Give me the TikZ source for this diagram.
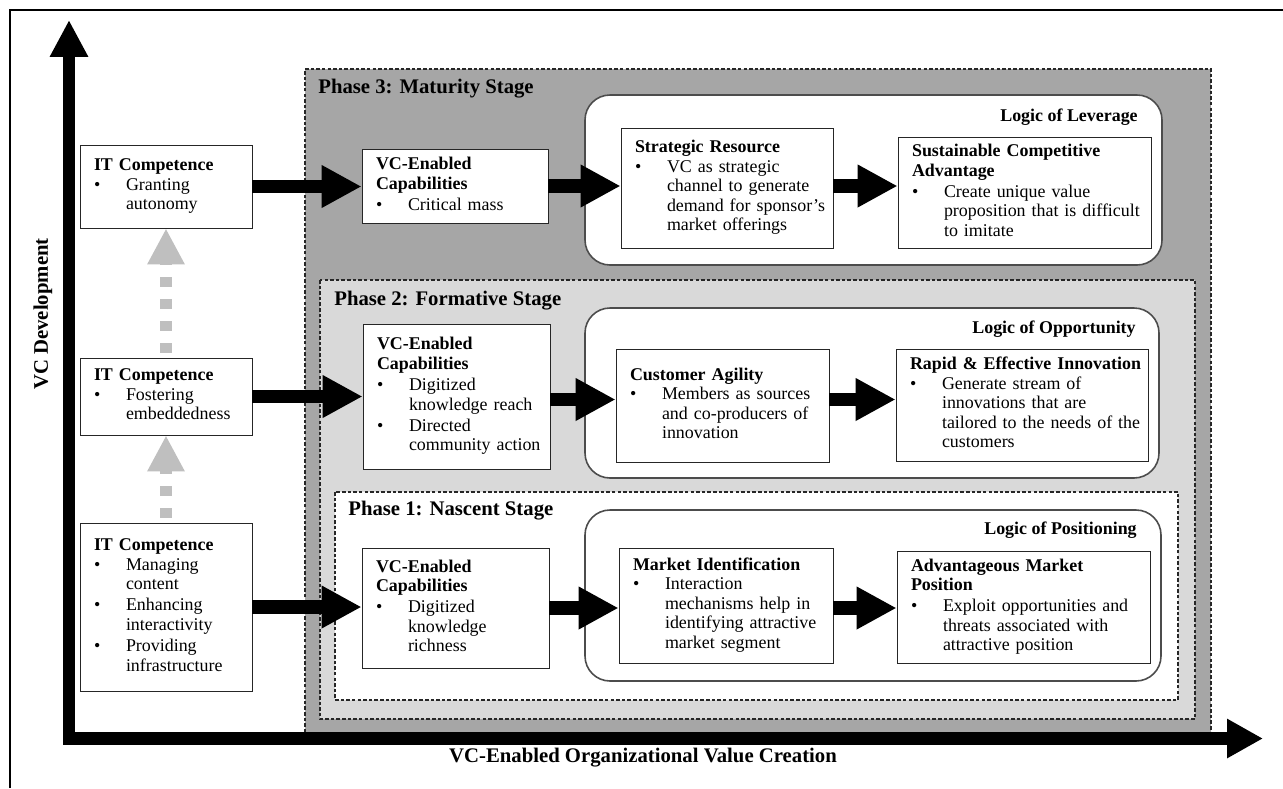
\documentclass[tikz,border=0pt]{standalone}
\usepackage{fontspec}
\setmainfont{Liberation Serif}
\usetikzlibrary{arrows.meta}
\newcommand{\bodyfont}{\fontsize{10.2}{11.1}\selectfont}
\newcommand{\headfont}{\fontsize{11.8}{13}\selectfont\bfseries}
\newcommand{\ttl}[1]{\noindent\textbf{\begin{tabular}[t]{@{}l@{}}#1\end{tabular}}}
\newcommand{\bitem}[1]{\par\noindent\makebox[0.64cm][l]{\textbullet}%
  \begin{tabular}[t]{@{}l@{}}#1\end{tabular}}

\begin{document}
\begin{tikzpicture}[x=0.02cm, y=-0.02cm,
  box/.style={draw=black!85, line width=0.5pt, fill=white, align=left,
    inner xsep=0.28cm, inner ysep=0.08cm, font=\bodyfont},
  phase/.style={draw=black!85, line width=0.6pt, dash pattern=on 2pt off 1.2pt},
  logic/.style={draw=black!70, line width=0.9pt, fill=white, rounded corners=0.5cm},
  logiclabel/.style={anchor=east, inner sep=0pt, font=\bodyfont\bfseries},
  phaselabel/.style={anchor=west, inner sep=0pt, font=\headfont},
  fat/.style={line width=0.27cm, -{Triangle[width=0.8cm, length=0.8cm]}},
  axis/.style={line width=0.25cm, line join=miter,
    {Triangle[width=0.72cm, length=0.74cm]}-{Triangle[width=0.74cm, length=0.72cm]}},
  climb/.style={draw=black!25, line width=0.23cm, dash pattern=on 0.2cm off 0.24cm,
    dash phase=0.34cm, -{Triangle[width=0.7cm, length=0.72cm]}}]
\useasboundingbox (0,0) rectangle (1283,788);
% Frame of the figure.
\draw[line width=0.04cm] (10,788) -- (10,10) -- (1283,10);
% Shade the three phases.
\fill[black!35] (305,69) rectangle (1211,738);
\draw[phase] (305,738) -- (305,69) -- (1211,69) -- (1211,738);
\draw[phase, fill=black!15] (320,280) rectangle (1195,719);
\draw[phase, fill=white] (335,492) rectangle (1178,700);
\node[phaselabel] (ph3) at (318,89) {Phase 3: Maturity Stage};
\node[phaselabel] (ph2) at (334,301) {Phase 2: Formative Stage};
\node[phaselabel] (ph1) at (348,511) {Phase 1: Nascent Stage};
% Draw the logic panels.
\draw[logic] (585,95) rectangle (1162,265);
\draw[logic] (585,308) rectangle (1159,478);
\draw[logic] (585,510) rectangle (1161,681);
\node[logiclabel] (lev) at (1138,117) {Logic of Leverage};
\node[logiclabel] (opp) at (1136,329) {Logic of Opportunity};
\node[logiclabel] (pos) at (1137,530) {Logic of Positioning};
% Draw the two axes.
\coordinate (ytip) at (69,20);
\coordinate (origin) at (69,738.5);
\coordinate (xtip) at (1263,738.5);
\draw[axis] (ytip) -- (origin) -- (xtip);
\node[rotate=90, font=\headfont] (ylab) at (43,314) {VC Development};
\node[font=\headfont] (xlab) at (643,758) {VC-Enabled Organizational Value Creation};
% IT competence column.
\node[box, text width=2.88cm, minimum height=1.66cm] (itt) at (166,186.5)
  {\ttl{IT Competence}\bitem{Granting\\autonomy}};
\node[box, text width=2.88cm, minimum height=1.54cm] (itm) at (166,396.5)
  {\ttl{IT Competence}\bitem{Fostering\\embeddedness}};
\node[box, text width=2.88cm, minimum height=3.36cm] (itb) at (166,607)
  {\ttl{IT Competence}\bitem{Managing\\content}\bitem{Enhancing\\interactivity}%
   \bitem{Providing\\infrastructure}};
% VC-enabled capabilities column.
\node[box, text width=3.16cm, minimum height=1.48cm] (vct) at (455,186)
  {\ttl{VC-Enabled\\Capabilities}\bitem{Critical mass}};
\node[box, text width=3.18cm, minimum height=2.9cm] (vcm) at (456.5,396.5)
  {\ttl{VC-Enabled\\Capabilities}\bitem{Digitized\\knowledge reach}%
   \bitem{Directed\\community action}};
\node[box, text width=3.18cm, minimum height=2.4cm] (vcb) at (455.5,608)
  {\ttl{VC-Enabled\\Capabilities}\bitem{Digitized\\knowledge\\richness}};
% Intermediate outcomes.
\node[box, text width=3.68cm, minimum height=2.4cm] (strat) at (727,188)
  {\ttl{Strategic Resource}\bitem{VC as strategic\\channel to generate\\demand for sponsor’s\\market offerings}};
\node[box, text width=3.70cm, minimum height=2.26cm] (agil) at (722.5,405.5)
  {\ttl{Customer Agility}\bitem{Members as sources\\and co-producers of\\innovation}};
\node[box, text width=3.72cm, minimum height=2.3cm] (mkt) at (726,605.5)
  {\ttl{Market Identification}\bitem{Interaction\\mechanisms help in\\identifying attractive\\market segment}};
% Final outcomes.
\node[box, text width=4.50cm, minimum height=2.22cm] (sust) at (1024.5,192.5)
  {\ttl{Sustainable Competitive\\Advantage}\bitem{Create unique value\\proposition that is difficult\\to imitate}};
\node[box, text width=4.48cm, minimum height=2.24cm] (innov) at (1022,405)
  {\ttl{Rapid \& Effective Innovation}\bitem{Generate stream of\\innovations that are\\tailored to the needs of the\\customers}};
\node[box, text width=4.50cm, minimum height=2.24cm] (adv) at (1023.5,607)
  {\ttl{Advantageous Market\\Position}\bitem{Exploit opportunities and\\threats associated with\\attractive position}};
% Climb from one competence to the next.
\draw[climb] (itb.north) -- (itm.south);
\draw[climb] (itm.north) -- (itt.south);
% Block arrows along each phase.
\draw[fat] (itt.east) -- (itt.east -| vct.west);
\draw[fat] (vct.east) -- (vct.east -| strat.west);
\draw[fat] (strat.east |- vct.east) -- (sust.west |- vct.east);
\draw[fat] (itm.east) -- (itm.east -| vcm.west);
\draw[fat] ([yshift=-0.06cm]vcm.east) -- ([yshift=-0.06cm]vcm.east -| agil.west);
\draw[fat] ([yshift=-0.06cm]agil.east |- vcm.east) -- ([yshift=-0.06cm]innov.west |- vcm.east);
\draw[fat] (itb.east) -- (itb.east -| vcb.west);
\draw[fat] (vcb.east) -- (vcb.east -| mkt.west);
\draw[fat] (mkt.east |- vcb.east) -- (adv.west |- vcb.east);
\end{tikzpicture}
\end{document}
